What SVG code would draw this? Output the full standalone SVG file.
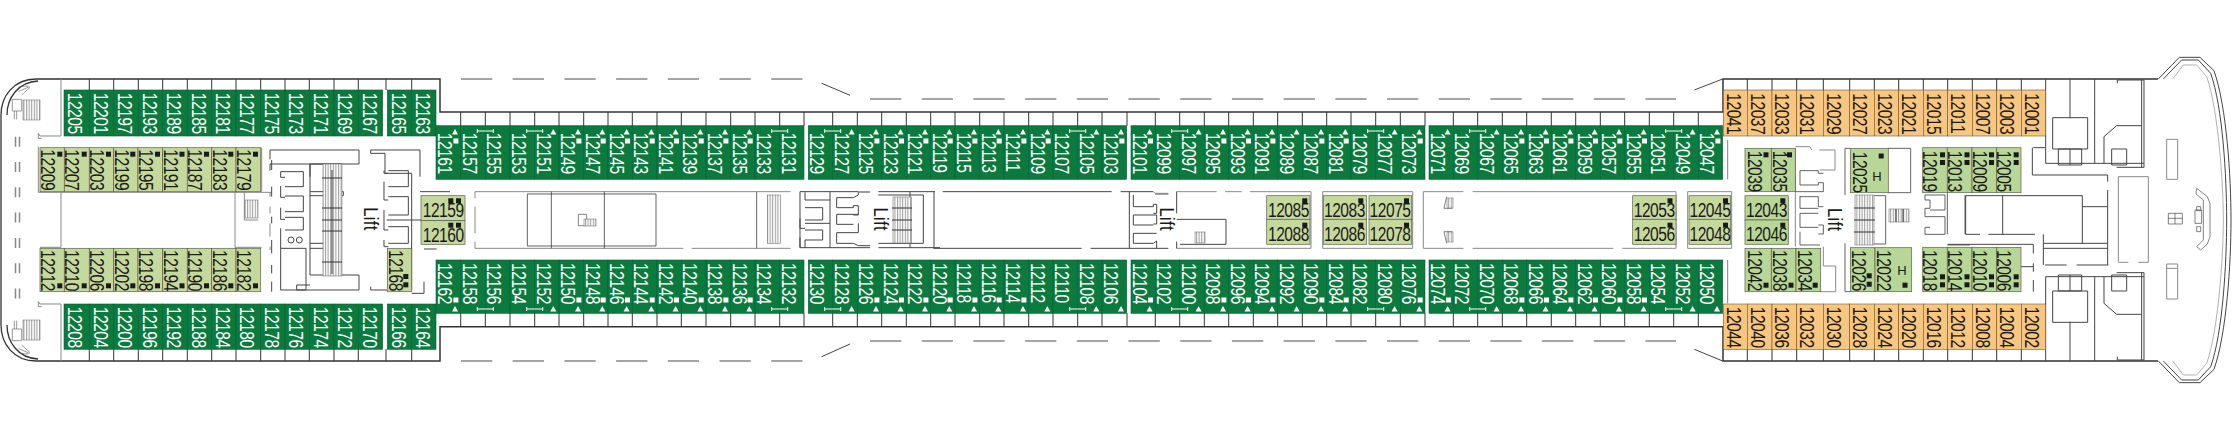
<svg xmlns="http://www.w3.org/2000/svg" xmlns:xlink="http://www.w3.org/1999/xlink" width="2232" height="440" viewBox="0 0 2232 440">
<style>
text{font-family:"Liberation Sans",Arial,sans-serif;font-size:19.5px;letter-spacing:-.6px}
#lift-labels text{letter-spacing:.4px}
.w{fill:#fff}.b{fill:#1a1a1a}
.g{fill:#0b7a3e;stroke:#08602f;stroke-width:.6}
.a{fill:#c6d99d;stroke:#56624a;stroke-width:.7}
.f{fill:#b8d696;stroke:#56624a;stroke-width:.7}
.o{fill:#f9c67f;stroke:#6a5a3a;stroke-width:.6}
.l{fill:none;stroke:#444;stroke-width:3}
.m{fill:none;stroke:#8a8a8a;stroke-width:3}
.d{fill:none;stroke:#888;stroke-width:1.5}
.s{fill:url(#st);stroke:#777;stroke-width:.6}
.h{fill:none;stroke:#333;stroke-width:1}
</style>
<defs>
<pattern id="st" width="2.6" height="6" patternUnits="userSpaceOnUse"><rect width="2.6" height="6" fill="#fff"/><path d="M.6 0V6" stroke="#777" stroke-width=".8"/></pattern>
<rect id="k" width="5" height="5" fill="#1a1a1a"/>
<path id="ta" fill="#fff" d="M-5.7 129l3 5.5h-6zM-7.3 138.5h5v5h-5z"/>
<path id="tb" fill="#fff" d="M-5.7 129l3 5.5h-6z"/>
<path id="ba" fill="#fff" d="M-5.7 306l3 5.5h-6zM-7.3 297.5h5v5h-5z"/>
<path id="bb" fill="#fff" d="M-5.7 306l3 5.5h-6z"/>
<path id="tc" fill="none" stroke="#fff" d="M-8 131h16M-8 129v4M8 129v4"/>
<path id="bc" fill="none" stroke="#fff" d="M-8 309h16M-8 307v4M8 307v4"/>
</defs>
<rect width="2232" height="440" fill="#fff"/>

<g id="hull">
<path class="d" style="stroke:#333" d="M36 79H440V112H1723V79H2158M36 361H440V326.7H1723V361H2158"/>
<path class="d" style="stroke:#333;stroke-width:1.3" d="M36 79C14 79 1 96 1 115V325C1 344 14 361 36 361M38 81C18 82 7 98 7 115M38 359C18 358 7 342 7 325"/>
<path class="d" d="M461 79H803M870 99H1676M461 361H803M870 341H1676" stroke-dasharray="31.3 20.4"/>
<path class="d" style="stroke:#444;stroke-width:1" d="M821.7 83.3L850 95.3M1694.3 90L1722.7 79M821.7 356.7L850 344M1694.3 349.3L1722.7 361"/>
<path class="d" d="M15.5 136.7V300M19.5 136.7V300" stroke-dasharray="10 15.3"/>
<path class="h" d="M89.3 79V90M113.7 79V90M138.3 79V90M162.7 79V90M187.3 79V90M211.7 79V90M236 79V90M260.7 79V90M285 79V90M309.3 79V90M334 79V90M358.3 79V90M386 79V90M411.7 79V90M89.3 349V361M113.7 349V361M138.3 349V361M162.7 349V361M187.3 349V361M211.7 349V361M236 349V361M260.7 349V361M285 349V361M309.3 349V361M334 349V361M358.3 349V361M386 349V361M411.7 349V361"/>
<path class="h" d="M460.7 112V126M485.3 112V126M510 112V126M534.7 112V126M559 112V126M583.7 112V126M608 112V126M632.3 112V126M657 112V126M681.3 112V126M706 112V126M730.7 112V126M755 112V126M779.7 112V126M804 112V126M832.7 112V126M857.3 112V126M881.7 112V126M906.3 112V126M930.7 112V126M955 112V126M979.7 112V126M1004 112V126M1028.7 112V126M1053 112V126M1077.7 112V126M1102 112V126M1127 112V126M1155.3 112V126M1179.7 112V126M1204.3 112V126M1228.7 112V126M1253.3 112V126M1277.7 112V126M1302.3 112V126M1326.7 112V126M1351 112V126M1375.7 112V126M1400.3 112V126M1425 112V126M1453.3 112V126M1477.7 112V126M1502.3 112V126M1526.7 112V126M1551.3 112V126M1575.7 112V126M1600.3 112V126M1624.7 112V126M1649.3 112V126M1673.7 112V126M1698.3 112V126"/>
<path class="h" d="M460.7 313V327M485.3 313V327M510 313V327M534.7 313V327M559 313V327M583.7 313V327M608 313V327M632.3 313V327M657 313V327M681.3 313V327M706 313V327M730.7 313V327M755 313V327M779.7 313V327M804 313V327M832.7 313V327M857.3 313V327M881.7 313V327M906.3 313V327M930.7 313V327M955 313V327M979.7 313V327M1004 313V327M1028.7 313V327M1053 313V327M1077.7 313V327M1102 313V327M1127 313V327M1155.3 313V327M1179.7 313V327M1204.3 313V327M1228.7 313V327M1253.3 313V327M1277.7 313V327M1302.3 313V327M1326.7 313V327M1351 313V327M1375.7 313V327M1400.3 313V327M1425 313V327M1453.3 313V327M1477.7 313V327M1502.3 313V327M1526.7 313V327M1551.3 313V327M1575.7 313V327M1600.3 313V327M1624.7 313V327M1649.3 313V327M1673.7 313V327M1698.3 313V327"/>
<path class="h" d="M1747.3 79V90M1772 79V90M1796.7 79V90M1823.3 79V90M1849.7 79V90M1874.3 79V90M1898.7 79V90M1923.3 79V90M1947.7 79V90M1972.3 79V90M1996.7 79V90M2021.3 79V90M1747.3 349V361M1772 349V361M1796.7 349V361M1823.3 349V361M1849.7 349V361M1874.3 349V361M1898.7 349V361M1923.3 349V361M1947.7 349V361M1972.3 349V361M1996.7 349V361M2021.3 349V361"/>
</g>

<g id="aft-deck" transform="translate(0 50) scale(.33333)">
<path class="m" d="M183 87V258H120L115 250V265H125M183 933V762H120L115 755V770H125M115 290V427H815M183 427V592M705 427V592M785 293V425M120 592H183M705 592H785M733 427V510H775M810 427V440M810 470V490M810 520V560M810 590V600"/>
<path class="h" style="stroke-width:2;stroke:#666" d="M60 110L85 108M55 125L88 110M65 135L90 112M55 895L88 910M60 910L85 912M65 885L90 908M37 148H65V183H37ZM37 872H65V837H37ZM43 183V208M50 183V208M43 837V812M50 837V812"/>
</g>
<rect class="s" x="23" y="100" width="17" height="20"/>
<rect class="s" x="23" y="320" width="17" height="20"/>
<rect class="s" x="245" y="200" width="13" height="18"/>

<g id="aft-lift" transform="translate(260 140) scale(.33333)">
<path class="l" d="M30 58V30H297V72H30V92M62 95H130V140H75M62 95V112H75M62 138V172H75M75 168H130V215H75M62 203V238H75M75 232H130V270H75M62 265V325H138V450H62V325M110 450V435H150M150 405H297V450H110M150 72V325M150 72H245M150 155H250V167H150M150 325H245M150 310H190M150 72V110M150 325V405M332 30H380M332 30V40H375V100H455V450M480 30V110M380 30H480M372 92V100H385M385 92H445V140H385M372 125V180H385M385 170H445V225H385M372 210V270H385M385 260H445V310H385M372 300V320H385M332 440V450H382M455 460H492V425M480 155H570M492 327H530M380 240H485M35 60V90M35 140V170M35 230V250M35 300V340M35 375V400M35 425V455"/>
<circle class="l" cx="93" cy="300" r="9"/><circle class="l" cx="118" cy="300" r="9"/>
</g>
<rect class="s" x="323" y="164" width="19" height="112"/>
<path class="h" d="M322 178H342M322 208H342M322 220H342M322 231H342M322 262H342M332 170V274"/>

<g id="mid-room-1" transform="translate(430 50) scale(.33333)">
<path class="m" d="M135 445V425H980M135 470V550M135 575V595H760M785 595H1082M980 425H1082"/>
<path class="l" style="stroke-width:2.5" d="M292 432V588H678V432H292M364 425V595M523 425V595M980 425V595"/>
<path class="l" style="stroke-width:2" d="M445 493H470V527H445Z"/>
</g>
<rect class="s" x="584" y="219" width="12" height="7"/>
<rect class="s" x="767.3" y="195" width="13" height="48.3"/>

<g id="mid-lift-1" transform="translate(790 185) scale(.33333)">
<path class="l" d="M30 20V188M30 20H205M120 20V188M30 188H120M45 22V45H120M45 68H98V105H45M30 100V130H45M45 115H120M45 135H98V165H45M30 158V188M45 165V188M140 38H190L205 30V20M140 38V68H190V62H205V90H190M140 88H205M140 88V118H190M140 143H205V115M140 143V175H190L205 182H240M120 188H240M265 20H435M265 30H400V175H265M265 188H450M360 20V188M432 20V188"/>
<path class="m" style="stroke-width:5" d="M205 21H240"/>
</g>
<rect class="s" x="893" y="197" width="18.5" height="46"/>
<path class="h" d="M892 208H912M892 220H912M892 230H912"/>

<g id="mid-room-2" transform="translate(860 50) scale(.33333)">
<path class="l" d="M248 425H755M782 425H880M220 595H665M692 595H925M808 425V595M885 432H925M820 435V470H880V463H890V490H880M820 495H890V522H880M820 495V525H880M820 550H890M820 550V580H880L890 573V595"/>
<path class="m" d="M880 425L885 430H925"/>
<path class="m" d="M950 425H1070M1095 425H1145M1170 425H1220M950 595H1220"/>
<path class="l" d="M950 425V490M950 575V595M950 508H1098V583H960"/>
</g>
<rect class="s" x="1195" y="232" width="10" height="11"/>

<g id="mid-frames" transform="translate(1290 50) scale(.33333)">
<path class="m" d="M-70 425H63V595H-70M98 425H368V595H98ZM400 425H520M548 425H1158V595H997M970 595H548M520 595H400V425M1193 425H1325V595H1193Z"/>
<path class="l" style="stroke-width:2" d="M470 440L462 475H487M470 580L462 545H487M1313 270V388M1313 630V760"/>
</g>
<rect class="s" x="1447" y="198" width="6" height="10"/>
<rect class="s" x="1447" y="232" width="6" height="10"/>

<g id="fwd-deck" transform="translate(1720 50) scale(.33333)">
<path class="l" d="M977 87V340H1272M1050 87V205M1124 87V340M998 203H1103V297H998ZM1015 297H1085V345H1015ZM1050 297V345M1192 100V90H1272V352H1190M1152 340V260L1190 227H1265M1175 297H1220V345H1175ZM1265 90V352"/>
<path class="l" d="M977 933V680H1272M1050 933V815M1124 933V680M998 817H1103V723H998ZM1015 723H1085V675H1015ZM1050 723V675M1192 920V930H1272V668H1190M1152 680V760L1190 793H1265M1175 723H1220V675H1175ZM1265 930V668"/>
<path class="l" d="M937 293V375H1163V395M1163 420V645M737 553V437H1087V580M848 437V553M737 553H780M805 553H945M1087 470H1163M970 553V645M970 580H1163M970 595H1163M975 645H1040M1070 645H1165M683 583H940V610M940 640V665M940 690V725M903 650H940M940 293H975"/>
<path class="m" d="M1195 635V380H1285V637H1255M1225 637H1195M1340 268H1373V388H1340ZM1340 642H1373V747H1340ZM1340 655H1373"/>
<path class="l" style="stroke-width:2" d="M1345 490H1387V522H1345ZM1345 505H1387M1365 490V522M1425 480H1445V520H1425ZM1430 470H1442V482H1430ZM1430 530H1442V545H1430ZM1430 415L1462 440L1470 460V560L1462 582L1442 600L1430 590L1450 570V450L1428 432Z"/>
<path class="l" stroke-linejoin="round" d="M1315 87L1378 22H1440L1482 62C1520 170 1533 380 1533 510C1533 640 1520 850 1482 958L1440 998H1378L1315 933M1330 87L1385 30H1435L1472 70C1508 170 1520 380 1520 510C1520 640 1508 850 1472 950L1435 990H1385L1330 933"/>
<path class="m" style="stroke-width:2" d="M1358 87L1390 45H1430L1460 80C1495 180 1510 400 1510 510C1510 620 1495 840 1460 940L1430 975H1390L1358 933"/>
</g>

<g id="fwd-lift" transform="translate(1790 140) scale(.33333)">
<path class="m" d="M16 25V320M16 20H60L65 30M88 30H135V90H90M100 320V378H137V455H90"/>
<path class="l" style="stroke-width:2.5" d="M30 92H85V100H100M30 92V135H85V128H100V155H15M30 168V205H85M100 200H85V170H30M30 220V262H85M85 220H30M85 255H100V282H85M30 275V315H90M165 25V165M165 25H180M250 167H287V312H195M165 310V455H180M293 25H362V158H293M405 165H465V210H420M405 165V180H420V205H405V230H465V283H405V262H420M472 160V283M525 165V283M472 315H540"/>
</g>
<rect class="s" x="1855" y="195" width="19" height="50"/>
<rect class="s" x="1889" y="209" width="20" height="13"/>
<path class="h" d="M1854 208H1875M1854 220H1875M1854 232H1875M1896 209V222M1903 209V222"/>

<g id="lift-labels" class="b">
<text transform="matrix(0 .85 -1 0 364 207.3)">Lift</text>
<text transform="matrix(0 .85 -1 0 873.5 207.5)">Lift</text>
<text transform="matrix(0 .85 -1 0 1160 207.5)">Lift</text>
<text transform="matrix(0 .85 -1 0 1827.5 208)">Lift</text>
</g>

<g id="cabins-aft-top">
<g id="c12205"><rect class="g" x="64" y="90" width="25.3" height="46"/><text class="w" transform="matrix(0 .8 -1 0 68.3 92.7)">12205</text></g>
<g id="c12201"><rect class="g" x="89.3" y="90" width="24.4" height="46"/><text class="w" transform="matrix(0 .8 -1 0 93.6 92.7)">12201</text></g>
<g id="c12197"><rect class="g" x="113.7" y="90" width="24.6" height="46"/><text class="w" transform="matrix(0 .8 -1 0 118 92.7)">12197</text></g>
<g id="c12193"><rect class="g" x="138.3" y="90" width="24.4" height="46"/><text class="w" transform="matrix(0 .8 -1 0 142.6 92.7)">12193</text></g>
<g id="c12189"><rect class="g" x="162.7" y="90" width="24.6" height="46"/><text class="w" transform="matrix(0 .8 -1 0 167 92.7)">12189</text></g>
<g id="c12185"><rect class="g" x="187.3" y="90" width="24.4" height="46"/><text class="w" transform="matrix(0 .8 -1 0 191.6 92.7)">12185</text></g>
<g id="c12181"><rect class="g" x="211.7" y="90" width="24.3" height="46"/><text class="w" transform="matrix(0 .8 -1 0 216 92.7)">12181</text></g>
<g id="c12177"><rect class="g" x="236" y="90" width="24.7" height="46"/><text class="w" transform="matrix(0 .8 -1 0 240.3 92.7)">12177</text></g>
<g id="c12175"><rect class="g" x="260.7" y="90" width="24.3" height="46"/><text class="w" transform="matrix(0 .8 -1 0 265 92.7)">12175</text></g>
<g id="c12173"><rect class="g" x="285" y="90" width="24.3" height="46"/><text class="w" transform="matrix(0 .8 -1 0 289.3 92.7)">12173</text></g>
<g id="c12171"><rect class="g" x="309.3" y="90" width="24.7" height="46"/><text class="w" transform="matrix(0 .8 -1 0 313.6 92.7)">12171</text></g>
<g id="c12169"><rect class="g" x="334" y="90" width="24.3" height="46"/><text class="w" transform="matrix(0 .8 -1 0 338.3 92.7)">12169</text></g>
<g id="c12167"><rect class="g" x="358.3" y="90" width="24.4" height="46"/><text class="w" transform="matrix(0 .8 -1 0 362.6 92.7)">12167</text></g>
<g id="c12165"><rect class="g" x="387.3" y="90" width="24.4" height="46"/><text class="w" transform="matrix(0 .8 -1 0 391.6 92.7)">12165</text></g>
<g id="c12163"><rect class="g" x="411.7" y="90" width="24.3" height="46"/><text class="w" transform="matrix(0 .8 -1 0 416 92.7)">12163</text></g>
</g>
<g id="cabins-aft-bottom">
<g id="c12208"><rect class="g" x="64" y="304" width="25.3" height="45.3"/><text class="w" transform="matrix(0 .8 -1 0 68.3 306.7)">12208</text></g>
<g id="c12204"><rect class="g" x="89.3" y="304" width="24.4" height="45.3"/><text class="w" transform="matrix(0 .8 -1 0 93.6 306.7)">12204</text></g>
<g id="c12200"><rect class="g" x="113.7" y="304" width="24.6" height="45.3"/><text class="w" transform="matrix(0 .8 -1 0 118 306.7)">12200</text></g>
<g id="c12196"><rect class="g" x="138.3" y="304" width="24.4" height="45.3"/><text class="w" transform="matrix(0 .8 -1 0 142.6 306.7)">12196</text></g>
<g id="c12192"><rect class="g" x="162.7" y="304" width="24.6" height="45.3"/><text class="w" transform="matrix(0 .8 -1 0 167 306.7)">12192</text></g>
<g id="c12188"><rect class="g" x="187.3" y="304" width="24.4" height="45.3"/><text class="w" transform="matrix(0 .8 -1 0 191.6 306.7)">12188</text></g>
<g id="c12184"><rect class="g" x="211.7" y="304" width="24.3" height="45.3"/><text class="w" transform="matrix(0 .8 -1 0 216 306.7)">12184</text></g>
<g id="c12180"><rect class="g" x="236" y="304" width="24.7" height="45.3"/><text class="w" transform="matrix(0 .8 -1 0 240.3 306.7)">12180</text></g>
<g id="c12178"><rect class="g" x="260.7" y="304" width="24.3" height="45.3"/><text class="w" transform="matrix(0 .8 -1 0 265 306.7)">12178</text></g>
<g id="c12176"><rect class="g" x="285" y="304" width="24.3" height="45.3"/><text class="w" transform="matrix(0 .8 -1 0 289.3 306.7)">12176</text></g>
<g id="c12174"><rect class="g" x="309.3" y="304" width="24.7" height="45.3"/><text class="w" transform="matrix(0 .8 -1 0 313.6 306.7)">12174</text></g>
<g id="c12172"><rect class="g" x="334" y="304" width="24.3" height="45.3"/><text class="w" transform="matrix(0 .8 -1 0 338.3 306.7)">12172</text></g>
<g id="c12170"><rect class="g" x="358.3" y="304" width="24.4" height="45.3"/><text class="w" transform="matrix(0 .8 -1 0 362.6 306.7)">12170</text></g>
<g id="c12166"><rect class="g" x="387.3" y="304" width="24.4" height="45.3"/><text class="w" transform="matrix(0 .8 -1 0 391.6 306.7)">12166</text></g>
<g id="c12164"><rect class="g" x="411.7" y="304" width="24.3" height="45.3"/><text class="w" transform="matrix(0 .8 -1 0 416 306.7)">12164</text></g>
</g>
<g id="cabins-aft-inner">
<g id="c12209"><rect class="a" x="40" y="147.7" width="24.3" height="44"/><text class="b" transform="matrix(0 .8 -1 0 40.8 149.3)">12209</text><use href="#k" x="57.3" y="151.7"/></g>
<g id="c12207"><rect class="a" x="64.3" y="147.7" width="25" height="44"/><text class="b" transform="matrix(0 .8 -1 0 65.3 149.3)">12207</text><use href="#k" x="81.7" y="151.7"/></g>
<g id="c12203"><rect class="a" x="89.3" y="147.7" width="24.4" height="44"/><text class="b" transform="matrix(0 .8 -1 0 90.2 149.3)">12203</text><use href="#k" x="106" y="151.7"/></g>
<g id="c12199"><rect class="a" x="113.7" y="147.7" width="24.3" height="44"/><text class="b" transform="matrix(0 .8 -1 0 114.5 149.3)">12199</text><use href="#k" x="130.3" y="151.7"/></g>
<g id="c12195"><rect class="a" x="138" y="147.7" width="24.7" height="44"/><text class="b" transform="matrix(0 .8 -1 0 138.8 149.3)">12195</text><use href="#k" x="155" y="151.7"/></g>
<g id="c12191"><rect class="a" x="162.7" y="147.7" width="24.6" height="44"/><text class="b" transform="matrix(0 .8 -1 0 163.5 149.3)">12191</text><use href="#k" x="179.5" y="151.7"/></g>
<g id="c12187"><rect class="a" x="187.3" y="147.7" width="24.4" height="44"/><text class="b" transform="matrix(0 .8 -1 0 188.1 149.3)">12187</text><use href="#k" x="204" y="151.7"/></g>
<g id="c12183"><rect class="a" x="211.7" y="147.7" width="24.3" height="44"/><text class="b" transform="matrix(0 .8 -1 0 212.5 149.3)">12183</text><use href="#k" x="228.3" y="151.7"/></g>
<g id="c12179"><rect class="a" x="236" y="147.7" width="24.7" height="44"/><text class="b" transform="matrix(0 .8 -1 0 236.8 149.3)">12179</text><use href="#k" x="253" y="151.7"/></g>
<g id="c12212"><rect class="a" x="40" y="248.3" width="24.3" height="43.4"/><text class="b" transform="matrix(0 .8 -1 0 40.8 250)">12212</text><use href="#k" x="57.3" y="283.3"/></g>
<g id="c12210"><rect class="a" x="64.3" y="248.3" width="25" height="43.4"/><text class="b" transform="matrix(0 .8 -1 0 65.3 250)">12210</text><use href="#k" x="81.7" y="283.3"/></g>
<g id="c12206"><rect class="a" x="89.3" y="248.3" width="24.4" height="43.4"/><text class="b" transform="matrix(0 .8 -1 0 90.2 250)">12206</text><use href="#k" x="106" y="283.3"/></g>
<g id="c12202"><rect class="a" x="113.7" y="248.3" width="24.3" height="43.4"/><text class="b" transform="matrix(0 .8 -1 0 114.5 250)">12202</text><use href="#k" x="130.3" y="283.3"/></g>
<g id="c12198"><rect class="a" x="138" y="248.3" width="24.7" height="43.4"/><text class="b" transform="matrix(0 .8 -1 0 138.8 250)">12198</text><use href="#k" x="155" y="283.3"/></g>
<g id="c12194"><rect class="a" x="162.7" y="248.3" width="24.6" height="43.4"/><text class="b" transform="matrix(0 .8 -1 0 163.5 250)">12194</text><use href="#k" x="179.5" y="283.3"/></g>
<g id="c12190"><rect class="a" x="187.3" y="248.3" width="24.4" height="43.4"/><text class="b" transform="matrix(0 .8 -1 0 188.1 250)">12190</text><use href="#k" x="204" y="283.3"/></g>
<g id="c12186"><rect class="a" x="211.7" y="248.3" width="24.3" height="43.4"/><text class="b" transform="matrix(0 .8 -1 0 212.5 250)">12186</text><use href="#k" x="228.3" y="283.3"/></g>
<g id="c12182"><rect class="a" x="236" y="248.3" width="24.7" height="43.4"/><text class="b" transform="matrix(0 .8 -1 0 236.8 250)">12182</text><use href="#k" x="253" y="283.3"/></g>
<g id="c12168"><rect class="a" x="387.3" y="248.3" width="24.4" height="43.4"/><text class="b" transform="matrix(0 .8 -1 0 388.5 250)">12168</text><use href="#k" x="403.3" y="274"/><use href="#k" x="403.3" y="282.3"/></g>
<g id="c12159"><rect class="a" x="421" y="195.7" width="44" height="25"/><text class="b" transform="translate(422.7 216.7) scale(.8 1)">12159</text><use href="#k" x="448.3" y="198.3"/><use href="#k" x="456" y="198.3"/></g>
<g id="c12160"><rect class="a" x="421" y="220.7" width="44" height="23.6"/><text class="b" transform="translate(422.7 241.7) scale(.8 1)">12160</text><use href="#k" x="448.3" y="222.7"/><use href="#k" x="456" y="222.7"/></g>
</g>
<g id="cabins-side-top">
<g id="c12161"><rect class="g" x="436" y="125.7" width="24.7" height="53.6"/><text class="w" transform="matrix(0 .8 -1 0 437.8 132.7)">12161</text></g>
<g id="c12157"><rect class="g" x="460.7" y="125.7" width="24.6" height="53.6"/><text class="w" transform="matrix(0 .8 -1 0 462.5 132.7)">12157</text></g>
<g id="c12155"><rect class="g" x="485.3" y="125.7" width="24.7" height="53.6"/><text class="w" transform="matrix(0 .8 -1 0 487.1 132.7)">12155</text></g>
<g id="c12153"><rect class="g" x="510" y="125.7" width="24.7" height="53.6"/><text class="w" transform="matrix(0 .8 -1 0 511.8 132.7)">12153</text></g>
<g id="c12151"><rect class="g" x="534.7" y="125.7" width="24.3" height="53.6"/><text class="w" transform="matrix(0 .8 -1 0 536.5 132.7)">12151</text></g>
<g id="c12149"><rect class="g" x="559" y="125.7" width="24.7" height="53.6"/><text class="w" transform="matrix(0 .8 -1 0 560.8 132.7)">12149</text></g>
<g id="c12147"><rect class="g" x="583.7" y="125.7" width="24.3" height="53.6"/><text class="w" transform="matrix(0 .8 -1 0 585.5 132.7)">12147</text></g>
<g id="c12145"><rect class="g" x="608" y="125.7" width="24.3" height="53.6"/><text class="w" transform="matrix(0 .8 -1 0 609.8 132.7)">12145</text></g>
<g id="c12143"><rect class="g" x="632.3" y="125.7" width="24.7" height="53.6"/><text class="w" transform="matrix(0 .8 -1 0 634.1 132.7)">12143</text></g>
<g id="c12141"><rect class="g" x="657" y="125.7" width="24.3" height="53.6"/><text class="w" transform="matrix(0 .8 -1 0 658.8 132.7)">12141</text></g>
<g id="c12139"><rect class="g" x="681.3" y="125.7" width="24.7" height="53.6"/><text class="w" transform="matrix(0 .8 -1 0 683.1 132.7)">12139</text></g>
<g id="c12137"><rect class="g" x="706" y="125.7" width="24.7" height="53.6"/><text class="w" transform="matrix(0 .8 -1 0 707.8 132.7)">12137</text></g>
<g id="c12135"><rect class="g" x="730.7" y="125.7" width="24.3" height="53.6"/><text class="w" transform="matrix(0 .8 -1 0 732.5 132.7)">12135</text></g>
<g id="c12133"><rect class="g" x="755" y="125.7" width="24.7" height="53.6"/><text class="w" transform="matrix(0 .8 -1 0 756.8 132.7)">12133</text></g>
<g id="c12131"><rect class="g" x="779.7" y="125.7" width="24.3" height="53.6"/><text class="w" transform="matrix(0 .8 -1 0 781.5 132.7)">12131</text></g>
<g id="c12129"><rect class="g" x="808.3" y="125.7" width="24.4" height="53.6"/><text class="w" transform="matrix(0 .8 -1 0 810.1 132.7)">12129</text></g>
<g id="c12127"><rect class="g" x="832.7" y="125.7" width="24.6" height="53.6"/><text class="w" transform="matrix(0 .8 -1 0 834.5 132.7)">12127</text></g>
<g id="c12125"><rect class="g" x="857.3" y="125.7" width="24.4" height="53.6"/><text class="w" transform="matrix(0 .8 -1 0 859.1 132.7)">12125</text></g>
<g id="c12123"><rect class="g" x="881.7" y="125.7" width="24.6" height="53.6"/><text class="w" transform="matrix(0 .8 -1 0 883.5 132.7)">12123</text></g>
<g id="c12121"><rect class="g" x="906.3" y="125.7" width="24.4" height="53.6"/><text class="w" transform="matrix(0 .8 -1 0 908.1 132.7)">12121</text></g>
<g id="c12119"><rect class="g" x="930.7" y="125.7" width="24.3" height="53.6"/><text class="w" transform="matrix(0 .8 -1 0 932.5 132.7)">12119</text></g>
<g id="c12115"><rect class="g" x="955" y="125.7" width="24.7" height="53.6"/><text class="w" transform="matrix(0 .8 -1 0 956.8 132.7)">12115</text></g>
<g id="c12113"><rect class="g" x="979.7" y="125.7" width="24.3" height="53.6"/><text class="w" transform="matrix(0 .8 -1 0 981.5 132.7)">12113</text></g>
<g id="c12111"><rect class="g" x="1004" y="125.7" width="24.7" height="53.6"/><text class="w" transform="matrix(0 .8 -1 0 1005.8 132.7)">12111</text></g>
<g id="c12109"><rect class="g" x="1028.7" y="125.7" width="24.3" height="53.6"/><text class="w" transform="matrix(0 .8 -1 0 1030.5 132.7)">12109</text></g>
<g id="c12107"><rect class="g" x="1053" y="125.7" width="24.7" height="53.6"/><text class="w" transform="matrix(0 .8 -1 0 1054.8 132.7)">12107</text></g>
<g id="c12105"><rect class="g" x="1077.7" y="125.7" width="24.3" height="53.6"/><text class="w" transform="matrix(0 .8 -1 0 1079.5 132.7)">12105</text></g>
<g id="c12103"><rect class="g" x="1102" y="125.7" width="24.7" height="53.6"/><text class="w" transform="matrix(0 .8 -1 0 1103.8 132.7)">12103</text></g>
<g id="c12101"><rect class="g" x="1131" y="125.7" width="24.3" height="53.6"/><text class="w" transform="matrix(0 .8 -1 0 1132.8 132.7)">12101</text></g>
<g id="c12099"><rect class="g" x="1155.3" y="125.7" width="24.4" height="53.6"/><text class="w" transform="matrix(0 .8 -1 0 1157.1 132.7)">12099</text></g>
<g id="c12097"><rect class="g" x="1179.7" y="125.7" width="24.6" height="53.6"/><text class="w" transform="matrix(0 .8 -1 0 1181.5 132.7)">12097</text></g>
<g id="c12095"><rect class="g" x="1204.3" y="125.7" width="24.4" height="53.6"/><text class="w" transform="matrix(0 .8 -1 0 1206.1 132.7)">12095</text></g>
<g id="c12093"><rect class="g" x="1228.7" y="125.7" width="24.6" height="53.6"/><text class="w" transform="matrix(0 .8 -1 0 1230.5 132.7)">12093</text></g>
<g id="c12091"><rect class="g" x="1253.3" y="125.7" width="24.4" height="53.6"/><text class="w" transform="matrix(0 .8 -1 0 1255.1 132.7)">12091</text></g>
<g id="c12089"><rect class="g" x="1277.7" y="125.7" width="24.6" height="53.6"/><text class="w" transform="matrix(0 .8 -1 0 1279.5 132.7)">12089</text></g>
<g id="c12087"><rect class="g" x="1302.3" y="125.7" width="24.4" height="53.6"/><text class="w" transform="matrix(0 .8 -1 0 1304.1 132.7)">12087</text></g>
<g id="c12081"><rect class="g" x="1326.7" y="125.7" width="24.3" height="53.6"/><text class="w" transform="matrix(0 .8 -1 0 1328.5 132.7)">12081</text></g>
<g id="c12079"><rect class="g" x="1351" y="125.7" width="24.7" height="53.6"/><text class="w" transform="matrix(0 .8 -1 0 1352.8 132.7)">12079</text></g>
<g id="c12077"><rect class="g" x="1375.7" y="125.7" width="24.6" height="53.6"/><text class="w" transform="matrix(0 .8 -1 0 1377.5 132.7)">12077</text></g>
<g id="c12073"><rect class="g" x="1400.3" y="125.7" width="24.7" height="53.6"/><text class="w" transform="matrix(0 .8 -1 0 1402.1 132.7)">12073</text></g>
<g id="c12071"><rect class="g" x="1429" y="125.7" width="24.3" height="53.6"/><text class="w" transform="matrix(0 .8 -1 0 1430.8 132.7)">12071</text></g>
<g id="c12069"><rect class="g" x="1453.3" y="125.7" width="24.4" height="53.6"/><text class="w" transform="matrix(0 .8 -1 0 1455.1 132.7)">12069</text></g>
<g id="c12067"><rect class="g" x="1477.7" y="125.7" width="24.6" height="53.6"/><text class="w" transform="matrix(0 .8 -1 0 1479.5 132.7)">12067</text></g>
<g id="c12065"><rect class="g" x="1502.3" y="125.7" width="24.4" height="53.6"/><text class="w" transform="matrix(0 .8 -1 0 1504.1 132.7)">12065</text></g>
<g id="c12063"><rect class="g" x="1526.7" y="125.7" width="24.6" height="53.6"/><text class="w" transform="matrix(0 .8 -1 0 1528.5 132.7)">12063</text></g>
<g id="c12061"><rect class="g" x="1551.3" y="125.7" width="24.4" height="53.6"/><text class="w" transform="matrix(0 .8 -1 0 1553.1 132.7)">12061</text></g>
<g id="c12059"><rect class="g" x="1575.7" y="125.7" width="24.6" height="53.6"/><text class="w" transform="matrix(0 .8 -1 0 1577.5 132.7)">12059</text></g>
<g id="c12057"><rect class="g" x="1600.3" y="125.7" width="24.4" height="53.6"/><text class="w" transform="matrix(0 .8 -1 0 1602.1 132.7)">12057</text></g>
<g id="c12055"><rect class="g" x="1624.7" y="125.7" width="24.6" height="53.6"/><text class="w" transform="matrix(0 .8 -1 0 1626.5 132.7)">12055</text></g>
<g id="c12051"><rect class="g" x="1649.3" y="125.7" width="24.4" height="53.6"/><text class="w" transform="matrix(0 .8 -1 0 1651.1 132.7)">12051</text></g>
<g id="c12049"><rect class="g" x="1673.7" y="125.7" width="24.6" height="53.6"/><text class="w" transform="matrix(0 .8 -1 0 1675.5 132.7)">12049</text></g>
<g id="c12047"><rect class="g" x="1698.3" y="125.7" width="24.4" height="53.6"/><text class="w" transform="matrix(0 .8 -1 0 1700.1 132.7)">12047</text></g>
</g>
<g id="cabins-side-bottom">
<g id="c12162"><rect class="g" x="436" y="260" width="24.7" height="53.3"/><text class="w" transform="matrix(0 .8 -1 0 437.8 263)">12162</text></g>
<g id="c12158"><rect class="g" x="460.7" y="260" width="24.6" height="53.3"/><text class="w" transform="matrix(0 .8 -1 0 462.5 263)">12158</text></g>
<g id="c12156"><rect class="g" x="485.3" y="260" width="24.7" height="53.3"/><text class="w" transform="matrix(0 .8 -1 0 487.1 263)">12156</text></g>
<g id="c12154"><rect class="g" x="510" y="260" width="24.7" height="53.3"/><text class="w" transform="matrix(0 .8 -1 0 511.8 263)">12154</text></g>
<g id="c12152"><rect class="g" x="534.7" y="260" width="24.3" height="53.3"/><text class="w" transform="matrix(0 .8 -1 0 536.5 263)">12152</text></g>
<g id="c12150"><rect class="g" x="559" y="260" width="24.7" height="53.3"/><text class="w" transform="matrix(0 .8 -1 0 560.8 263)">12150</text></g>
<g id="c12148"><rect class="g" x="583.7" y="260" width="24.3" height="53.3"/><text class="w" transform="matrix(0 .8 -1 0 585.5 263)">12148</text></g>
<g id="c12146"><rect class="g" x="608" y="260" width="24.3" height="53.3"/><text class="w" transform="matrix(0 .8 -1 0 609.8 263)">12146</text></g>
<g id="c12144"><rect class="g" x="632.3" y="260" width="24.7" height="53.3"/><text class="w" transform="matrix(0 .8 -1 0 634.1 263)">12144</text></g>
<g id="c12142"><rect class="g" x="657" y="260" width="24.3" height="53.3"/><text class="w" transform="matrix(0 .8 -1 0 658.8 263)">12142</text></g>
<g id="c12140"><rect class="g" x="681.3" y="260" width="24.7" height="53.3"/><text class="w" transform="matrix(0 .8 -1 0 683.1 263)">12140</text></g>
<g id="c12138"><rect class="g" x="706" y="260" width="24.7" height="53.3"/><text class="w" transform="matrix(0 .8 -1 0 707.8 263)">12138</text></g>
<g id="c12136"><rect class="g" x="730.7" y="260" width="24.3" height="53.3"/><text class="w" transform="matrix(0 .8 -1 0 732.5 263)">12136</text></g>
<g id="c12134"><rect class="g" x="755" y="260" width="24.7" height="53.3"/><text class="w" transform="matrix(0 .8 -1 0 756.8 263)">12134</text></g>
<g id="c12132"><rect class="g" x="779.7" y="260" width="24.3" height="53.3"/><text class="w" transform="matrix(0 .8 -1 0 781.5 263)">12132</text></g>
<g id="c12130"><rect class="g" x="808.3" y="260" width="24.4" height="53.3"/><text class="w" transform="matrix(0 .8 -1 0 810.1 263)">12130</text></g>
<g id="c12128"><rect class="g" x="832.7" y="260" width="24.6" height="53.3"/><text class="w" transform="matrix(0 .8 -1 0 834.5 263)">12128</text></g>
<g id="c12126"><rect class="g" x="857.3" y="260" width="24.4" height="53.3"/><text class="w" transform="matrix(0 .8 -1 0 859.1 263)">12126</text></g>
<g id="c12124"><rect class="g" x="881.7" y="260" width="24.6" height="53.3"/><text class="w" transform="matrix(0 .8 -1 0 883.5 263)">12124</text></g>
<g id="c12122"><rect class="g" x="906.3" y="260" width="24.4" height="53.3"/><text class="w" transform="matrix(0 .8 -1 0 908.1 263)">12122</text></g>
<g id="c12120"><rect class="g" x="930.7" y="260" width="24.3" height="53.3"/><text class="w" transform="matrix(0 .8 -1 0 932.5 263)">12120</text></g>
<g id="c12118"><rect class="g" x="955" y="260" width="24.7" height="53.3"/><text class="w" transform="matrix(0 .8 -1 0 956.8 263)">12118</text></g>
<g id="c12116"><rect class="g" x="979.7" y="260" width="24.3" height="53.3"/><text class="w" transform="matrix(0 .8 -1 0 981.5 263)">12116</text></g>
<g id="c12114"><rect class="g" x="1004" y="260" width="24.7" height="53.3"/><text class="w" transform="matrix(0 .8 -1 0 1005.8 263)">12114</text></g>
<g id="c12112"><rect class="g" x="1028.7" y="260" width="24.3" height="53.3"/><text class="w" transform="matrix(0 .8 -1 0 1030.5 263)">12112</text></g>
<g id="c12110"><rect class="g" x="1053" y="260" width="24.7" height="53.3"/><text class="w" transform="matrix(0 .8 -1 0 1054.8 263)">12110</text></g>
<g id="c12108"><rect class="g" x="1077.7" y="260" width="24.3" height="53.3"/><text class="w" transform="matrix(0 .8 -1 0 1079.5 263)">12108</text></g>
<g id="c12106"><rect class="g" x="1102" y="260" width="24.7" height="53.3"/><text class="w" transform="matrix(0 .8 -1 0 1103.8 263)">12106</text></g>
<g id="c12104"><rect class="g" x="1131" y="260" width="24.3" height="53.3"/><text class="w" transform="matrix(0 .8 -1 0 1132.8 263)">12104</text></g>
<g id="c12102"><rect class="g" x="1155.3" y="260" width="24.4" height="53.3"/><text class="w" transform="matrix(0 .8 -1 0 1157.1 263)">12102</text></g>
<g id="c12100"><rect class="g" x="1179.7" y="260" width="24.6" height="53.3"/><text class="w" transform="matrix(0 .8 -1 0 1181.5 263)">12100</text></g>
<g id="c12098"><rect class="g" x="1204.3" y="260" width="24.4" height="53.3"/><text class="w" transform="matrix(0 .8 -1 0 1206.1 263)">12098</text></g>
<g id="c12096"><rect class="g" x="1228.7" y="260" width="24.6" height="53.3"/><text class="w" transform="matrix(0 .8 -1 0 1230.5 263)">12096</text></g>
<g id="c12094"><rect class="g" x="1253.3" y="260" width="24.4" height="53.3"/><text class="w" transform="matrix(0 .8 -1 0 1255.1 263)">12094</text></g>
<g id="c12092"><rect class="g" x="1277.7" y="260" width="24.6" height="53.3"/><text class="w" transform="matrix(0 .8 -1 0 1279.5 263)">12092</text></g>
<g id="c12090"><rect class="g" x="1302.3" y="260" width="24.4" height="53.3"/><text class="w" transform="matrix(0 .8 -1 0 1304.1 263)">12090</text></g>
<g id="c12084"><rect class="g" x="1326.7" y="260" width="24.3" height="53.3"/><text class="w" transform="matrix(0 .8 -1 0 1328.5 263)">12084</text></g>
<g id="c12082"><rect class="g" x="1351" y="260" width="24.7" height="53.3"/><text class="w" transform="matrix(0 .8 -1 0 1352.8 263)">12082</text></g>
<g id="c12080"><rect class="g" x="1375.7" y="260" width="24.6" height="53.3"/><text class="w" transform="matrix(0 .8 -1 0 1377.5 263)">12080</text></g>
<g id="c12076"><rect class="g" x="1400.3" y="260" width="24.7" height="53.3"/><text class="w" transform="matrix(0 .8 -1 0 1402.1 263)">12076</text></g>
<g id="c12074"><rect class="g" x="1429" y="260" width="24.3" height="53.3"/><text class="w" transform="matrix(0 .8 -1 0 1430.8 263)">12074</text></g>
<g id="c12072"><rect class="g" x="1453.3" y="260" width="24.4" height="53.3"/><text class="w" transform="matrix(0 .8 -1 0 1455.1 263)">12072</text></g>
<g id="c12070"><rect class="g" x="1477.7" y="260" width="24.6" height="53.3"/><text class="w" transform="matrix(0 .8 -1 0 1479.5 263)">12070</text></g>
<g id="c12068"><rect class="g" x="1502.3" y="260" width="24.4" height="53.3"/><text class="w" transform="matrix(0 .8 -1 0 1504.1 263)">12068</text></g>
<g id="c12066"><rect class="g" x="1526.7" y="260" width="24.6" height="53.3"/><text class="w" transform="matrix(0 .8 -1 0 1528.5 263)">12066</text></g>
<g id="c12064"><rect class="g" x="1551.3" y="260" width="24.4" height="53.3"/><text class="w" transform="matrix(0 .8 -1 0 1553.1 263)">12064</text></g>
<g id="c12062"><rect class="g" x="1575.7" y="260" width="24.6" height="53.3"/><text class="w" transform="matrix(0 .8 -1 0 1577.5 263)">12062</text></g>
<g id="c12060"><rect class="g" x="1600.3" y="260" width="24.4" height="53.3"/><text class="w" transform="matrix(0 .8 -1 0 1602.1 263)">12060</text></g>
<g id="c12058"><rect class="g" x="1624.7" y="260" width="24.6" height="53.3"/><text class="w" transform="matrix(0 .8 -1 0 1626.5 263)">12058</text></g>
<g id="c12054"><rect class="g" x="1649.3" y="260" width="24.4" height="53.3"/><text class="w" transform="matrix(0 .8 -1 0 1651.1 263)">12054</text></g>
<g id="c12052"><rect class="g" x="1673.7" y="260" width="24.6" height="53.3"/><text class="w" transform="matrix(0 .8 -1 0 1675.5 263)">12052</text></g>
<g id="c12050"><rect class="g" x="1698.3" y="260" width="24.4" height="53.3"/><text class="w" transform="matrix(0 .8 -1 0 1700.1 263)">12050</text></g>
</g>
<g id="cabin-icons">
<use href="#ta" x="460.7"/><use href="#ta" x="583.7"/><use href="#ta" x="608"/><use href="#ta" x="632.3"/><use href="#ta" x="657"/><use href="#ta" x="681.3"/><use href="#ta" x="706"/><use href="#ta" x="730.7"/><use href="#ta" x="755"/><use href="#ta" x="881.7"/><use href="#ta" x="906.3"/><use href="#ta" x="930.7"/><use href="#ta" x="955"/><use href="#ta" x="979.7"/><use href="#ta" x="1004"/><use href="#ta" x="1028.7"/><use href="#ta" x="1053"/><use href="#ta" x="1126.7"/><use href="#ta" x="1155.3"/><use href="#ta" x="1228.7"/><use href="#ta" x="1253.3"/><use href="#ta" x="1277.7"/><use href="#ta" x="1326.7"/><use href="#ta" x="1351"/><use href="#ta" x="1425"/><use href="#ta" x="1526.7"/><use href="#ta" x="1551.3"/><use href="#ta" x="1575.7"/><use href="#ta" x="1600.3"/><use href="#ta" x="1624.7"/><use href="#ta" x="1649.3"/><use href="#ta" x="1722.7"/>
<use href="#tb" x="559"/><use href="#tb" x="857.3"/><use href="#tb" x="1102"/><use href="#tb" x="1204.3"/><use href="#tb" x="1302.3"/><use href="#tb" x="1400.3"/><use href="#tb" x="1453.3"/><use href="#tb" x="1502.3"/><use href="#tb" x="1698.3"/>
<use href="#tc" x="485.3"/><use href="#tc" x="534.7"/><use href="#tc" x="779.7"/><use href="#tc" x="832.7"/><use href="#tc" x="1077.7"/><use href="#tc" x="1179.7"/><use href="#tc" x="1375.7"/><use href="#tc" x="1477.7"/><use href="#tc" x="1673.7"/>
<use href="#ba" x="460.7"/><use href="#ba" x="583.7"/><use href="#ba" x="608"/><use href="#ba" x="632.3"/><use href="#ba" x="657"/><use href="#ba" x="681.3"/><use href="#ba" x="706"/><use href="#ba" x="730.7"/><use href="#ba" x="755"/><use href="#ba" x="881.7"/><use href="#ba" x="906.3"/><use href="#ba" x="930.7"/><use href="#ba" x="955"/><use href="#ba" x="979.7"/><use href="#ba" x="1004"/><use href="#ba" x="1028.7"/><use href="#ba" x="1155.3"/><use href="#ba" x="1228.7"/><use href="#ba" x="1253.3"/><use href="#ba" x="1277.7"/><use href="#ba" x="1326.7"/><use href="#ba" x="1351"/><use href="#ba" x="1425"/><use href="#ba" x="1453.3"/><use href="#ba" x="1526.7"/><use href="#ba" x="1551.3"/><use href="#ba" x="1575.7"/><use href="#ba" x="1600.3"/><use href="#ba" x="1624.7"/><use href="#ba" x="1649.3"/>
<use href="#bb" x="559"/><use href="#bb" x="857.3"/><use href="#bb" x="1053"/><use href="#bb" x="1102"/><use href="#bb" x="1126.7"/><use href="#bb" x="1204.3"/><use href="#bb" x="1302.3"/><use href="#bb" x="1400.3"/><use href="#bb" x="1502.3"/><use href="#bb" x="1698.3"/><use href="#bb" x="1722.7"/>
<use href="#bc" x="485.3"/><use href="#bc" x="534.7"/><use href="#bc" x="779.7"/><use href="#bc" x="832.7"/><use href="#bc" x="1077.7"/><use href="#bc" x="1179.7"/><use href="#bc" x="1375.7"/><use href="#bc" x="1477.7"/><use href="#bc" x="1673.7"/>
</g>
<g id="cabins-mid">
<g id="c12085"><rect class="a" x="1266.7" y="195.7" width="43.3" height="23.6"/><text class="b" transform="translate(1268 216.7) scale(.8 1)">12085</text><use href="#k" x="1302.3" y="198.3"/></g>
<g id="c12088"><rect class="a" x="1266.7" y="219.3" width="43.3" height="25"/><text class="b" transform="translate(1268 241) scale(.8 1)">12088</text><use href="#k" x="1302.3" y="222.7"/></g>
<g id="c12083"><rect class="a" x="1323.3" y="195.7" width="43.4" height="23.6"/><text class="b" transform="translate(1324 216.7) scale(.8 1)">12083</text><use href="#k" x="1358.3" y="198.3"/></g>
<g id="c12086"><rect class="a" x="1323.3" y="219.3" width="43.4" height="25"/><text class="b" transform="translate(1324 241) scale(.8 1)">12086</text><use href="#k" x="1358.3" y="222.7"/></g>
<g id="c12075"><rect class="a" x="1369" y="195.7" width="42.7" height="23.6"/><text class="b" transform="translate(1369.6 216.7) scale(.8 1)">12075</text><use href="#k" x="1404" y="198.3"/></g>
<g id="c12078"><rect class="a" x="1369" y="219.3" width="42.7" height="25"/><text class="b" transform="translate(1369.6 241) scale(.8 1)">12078</text><use href="#k" x="1404" y="222.7"/></g>
<g id="c12053"><rect class="a" x="1632.7" y="195.7" width="43.3" height="23.6"/><text class="b" transform="translate(1633.7 216.7) scale(.8 1)">12053</text><use href="#k" x="1667.5" y="198.3"/></g>
<g id="c12056"><rect class="a" x="1632.7" y="219.3" width="43.3" height="25"/><text class="b" transform="translate(1633.7 241) scale(.8 1)">12056</text><use href="#k" x="1667.5" y="222.7"/></g>
<g id="c12045"><rect class="a" x="1689" y="195.7" width="41.7" height="23.6"/><text class="b" transform="translate(1689.5 216.7) scale(.8 1)">12045</text><use href="#k" x="1723" y="198.3"/></g>
<g id="c12048"><rect class="a" x="1689" y="219.3" width="41.7" height="25"/><text class="b" transform="translate(1689.5 241) scale(.8 1)">12048</text><use href="#k" x="1723" y="222.7"/></g>
</g>
<g id="cabins-fwd-top">
<g id="c12041"><rect class="o" x="1723.3" y="90" width="24" height="46"/><text class="b" transform="matrix(0 .8 -1 0 1726.6 93.3)">12041</text></g>
<g id="c12037"><rect class="o" x="1747.3" y="90" width="24.7" height="46"/><text class="b" transform="matrix(0 .8 -1 0 1750.6 93.3)">12037</text></g>
<g id="c12033"><rect class="o" x="1772" y="90" width="24.7" height="46"/><text class="b" transform="matrix(0 .8 -1 0 1775.3 93.3)">12033</text></g>
<g id="c12031"><rect class="o" x="1796.7" y="90" width="26.6" height="46"/><text class="b" transform="matrix(0 .8 -1 0 1800 93.3)">12031</text></g>
<g id="c12029"><rect class="o" x="1823.3" y="90" width="26.4" height="46"/><text class="b" transform="matrix(0 .8 -1 0 1826.6 93.3)">12029</text></g>
<g id="c12027"><rect class="o" x="1849.7" y="90" width="24.6" height="46"/><text class="b" transform="matrix(0 .8 -1 0 1853 93.3)">12027</text></g>
<g id="c12023"><rect class="o" x="1874.3" y="90" width="24.4" height="46"/><text class="b" transform="matrix(0 .8 -1 0 1877.6 93.3)">12023</text></g>
<g id="c12021"><rect class="o" x="1898.7" y="90" width="24.6" height="46"/><text class="b" transform="matrix(0 .8 -1 0 1902 93.3)">12021</text></g>
<g id="c12015"><rect class="o" x="1923.3" y="90" width="24.4" height="46"/><text class="b" transform="matrix(0 .8 -1 0 1926.6 93.3)">12015</text></g>
<g id="c12011"><rect class="o" x="1947.7" y="90" width="24.6" height="46"/><text class="b" transform="matrix(0 .8 -1 0 1951 93.3)">12011</text></g>
<g id="c12007"><rect class="o" x="1972.3" y="90" width="24.4" height="46"/><text class="b" transform="matrix(0 .8 -1 0 1975.6 93.3)">12007</text></g>
<g id="c12003"><rect class="o" x="1996.7" y="90" width="24.6" height="46"/><text class="b" transform="matrix(0 .8 -1 0 2000 93.3)">12003</text></g>
<g id="c12001"><rect class="o" x="2021.3" y="90" width="24.4" height="46"/><text class="b" transform="matrix(0 .8 -1 0 2024.6 93.3)">12001</text></g>
</g>
<g id="cabins-fwd-bottom">
<g id="c12044"><rect class="o" x="1723.3" y="304" width="24" height="45.3"/><text class="b" transform="matrix(0 .8 -1 0 1726.6 306.7)">12044</text></g>
<g id="c12040"><rect class="o" x="1747.3" y="304" width="24.7" height="45.3"/><text class="b" transform="matrix(0 .8 -1 0 1750.6 306.7)">12040</text></g>
<g id="c12036"><rect class="o" x="1772" y="304" width="24.7" height="45.3"/><text class="b" transform="matrix(0 .8 -1 0 1775.3 306.7)">12036</text></g>
<g id="c12032"><rect class="o" x="1796.7" y="304" width="26.6" height="45.3"/><text class="b" transform="matrix(0 .8 -1 0 1800 306.7)">12032</text></g>
<g id="c12030"><rect class="o" x="1823.3" y="304" width="26.4" height="45.3"/><text class="b" transform="matrix(0 .8 -1 0 1826.6 306.7)">12030</text></g>
<g id="c12028"><rect class="o" x="1849.7" y="304" width="24.6" height="45.3"/><text class="b" transform="matrix(0 .8 -1 0 1853 306.7)">12028</text></g>
<g id="c12024"><rect class="o" x="1874.3" y="304" width="24.4" height="45.3"/><text class="b" transform="matrix(0 .8 -1 0 1877.6 306.7)">12024</text></g>
<g id="c12020"><rect class="o" x="1898.7" y="304" width="24.6" height="45.3"/><text class="b" transform="matrix(0 .8 -1 0 1902 306.7)">12020</text></g>
<g id="c12016"><rect class="o" x="1923.3" y="304" width="24.4" height="45.3"/><text class="b" transform="matrix(0 .8 -1 0 1926.6 306.7)">12016</text></g>
<g id="c12012"><rect class="o" x="1947.7" y="304" width="24.6" height="45.3"/><text class="b" transform="matrix(0 .8 -1 0 1951 306.7)">12012</text></g>
<g id="c12008"><rect class="o" x="1972.3" y="304" width="24.4" height="45.3"/><text class="b" transform="matrix(0 .8 -1 0 1975.6 306.7)">12008</text></g>
<g id="c12004"><rect class="o" x="1996.7" y="304" width="24.6" height="45.3"/><text class="b" transform="matrix(0 .8 -1 0 2000 306.7)">12004</text></g>
<g id="c12002"><rect class="o" x="2021.3" y="304" width="24.4" height="45.3"/><text class="b" transform="matrix(0 .8 -1 0 2024.6 306.7)">12002</text></g>
</g>
<g id="cabins-fwd-inner">
<g id="c12039"><rect class="f" x="1745" y="148.3" width="26.3" height="43.4"/><text class="b" transform="matrix(0 .8 -1 0 1748.3 150.7)">12039</text><use href="#k" x="1763.5" y="152.3"/></g>
<g id="c12035"><rect class="f" x="1771.3" y="148.3" width="24" height="43.4"/><text class="b" transform="matrix(0 .8 -1 0 1773 150.7)">12035</text><use href="#k" x="1787" y="152.3"/></g>
<g id="c12043"><rect class="f" x="1745" y="195.7" width="43.3" height="24.3"/><text class="b" transform="translate(1746 216.7) scale(.8 1)">12043</text><use href="#k" x="1780.3" y="198.3"/></g>
<g id="c12046"><rect class="f" x="1745" y="220" width="43.3" height="24.3"/><text class="b" transform="translate(1746 241) scale(.8 1)">12046</text><use href="#k" x="1780.3" y="222.7"/></g>
<g id="c12042"><rect class="f" x="1745" y="248.3" width="26.3" height="43.4"/><text class="b" transform="matrix(0 .8 -1 0 1748.3 250)">12042</text><use href="#k" x="1763.5" y="282.7"/></g>
<g id="c12038"><rect class="f" x="1771.3" y="248.3" width="24.7" height="43.4"/><text class="b" transform="matrix(0 .8 -1 0 1773 250)">12038</text><use href="#k" x="1788.5" y="282.7"/></g>
<g id="c12034"><rect class="f" x="1796" y="248.3" width="24.7" height="43.4"/><text class="b" transform="matrix(0 .8 -1 0 1797.5 250)">12034</text><use href="#k" x="1812.7" y="282.7"/></g>
<g id="c12025"><rect class="f" x="1850.3" y="148.3" width="38" height="44.4"/><text class="b" transform="matrix(0 .8 -1 0 1852.7 151.7)">12025</text><text class="b" style="font-size:13px" text-anchor="middle" x="1876.7" y="180.5">H</text><use href="#k" x="1878.7" y="153.5"/></g>
<g id="c12026"><rect class="f" x="1850.3" y="247.7" width="24.7" height="44"/><text class="b" transform="matrix(0 .8 -1 0 1851.6 250)">12026</text><use href="#k" x="1866.7" y="273.3"/><use href="#k" x="1866.7" y="281.7"/></g>
<g id="c12022"><rect class="f" x="1875" y="247.7" width="36.7" height="44"/><text class="b" transform="matrix(0 .8 -1 0 1876.7 250)">12022</text><text class="b" style="font-size:13px" text-anchor="middle" x="1901.7" y="274.5">H</text><use href="#k" x="1902.5" y="282.7"/></g>
<g id="c12019"><rect class="f" x="1922.7" y="147.7" width="24.6" height="45"/><text class="b" transform="matrix(0 .8 -1 0 1923.4 150.7)">12019</text><use href="#k" x="1940" y="152.3"/><use href="#k" x="1940" y="160"/></g>
<g id="c12013"><rect class="f" x="1947.3" y="147.7" width="24.7" height="45"/><text class="b" transform="matrix(0 .8 -1 0 1948 150.7)">12013</text><use href="#k" x="1964.5" y="152.3"/><use href="#k" x="1964.5" y="160"/></g>
<g id="c12009"><rect class="f" x="1972" y="147.7" width="24.7" height="45"/><text class="b" transform="matrix(0 .8 -1 0 1972.7 150.7)">12009</text><use href="#k" x="1989" y="152.3"/><use href="#k" x="1989" y="160"/></g>
<g id="c12005"><rect class="f" x="1996.7" y="147.7" width="24.3" height="45"/><text class="b" transform="matrix(0 .8 -1 0 1997.4 150.7)">12005</text><use href="#k" x="2013.7" y="152.3"/><use href="#k" x="2013.7" y="160"/></g>
<g id="c12018"><rect class="f" x="1922.7" y="247.3" width="24.6" height="44.4"/><text class="b" transform="matrix(0 .8 -1 0 1923.4 250)">12018</text><use href="#k" x="1940" y="274.3"/><use href="#k" x="1940" y="282.3"/></g>
<g id="c12014"><rect class="f" x="1947.3" y="247.3" width="24.7" height="44.4"/><text class="b" transform="matrix(0 .8 -1 0 1948 250)">12014</text><use href="#k" x="1964.5" y="274.3"/><use href="#k" x="1964.5" y="282.3"/></g>
<g id="c12010"><rect class="f" x="1972" y="247.3" width="24.7" height="44.4"/><text class="b" transform="matrix(0 .8 -1 0 1972.7 250)">12010</text><use href="#k" x="1989" y="274.3"/><use href="#k" x="1989" y="282.3"/></g>
<g id="c12006"><rect class="f" x="1996.7" y="247.3" width="24.3" height="44.4"/><text class="b" transform="matrix(0 .8 -1 0 1997.4 250)">12006</text><use href="#k" x="2013.7" y="274.3"/><use href="#k" x="2013.7" y="282.3"/></g>
</g>
</svg>
